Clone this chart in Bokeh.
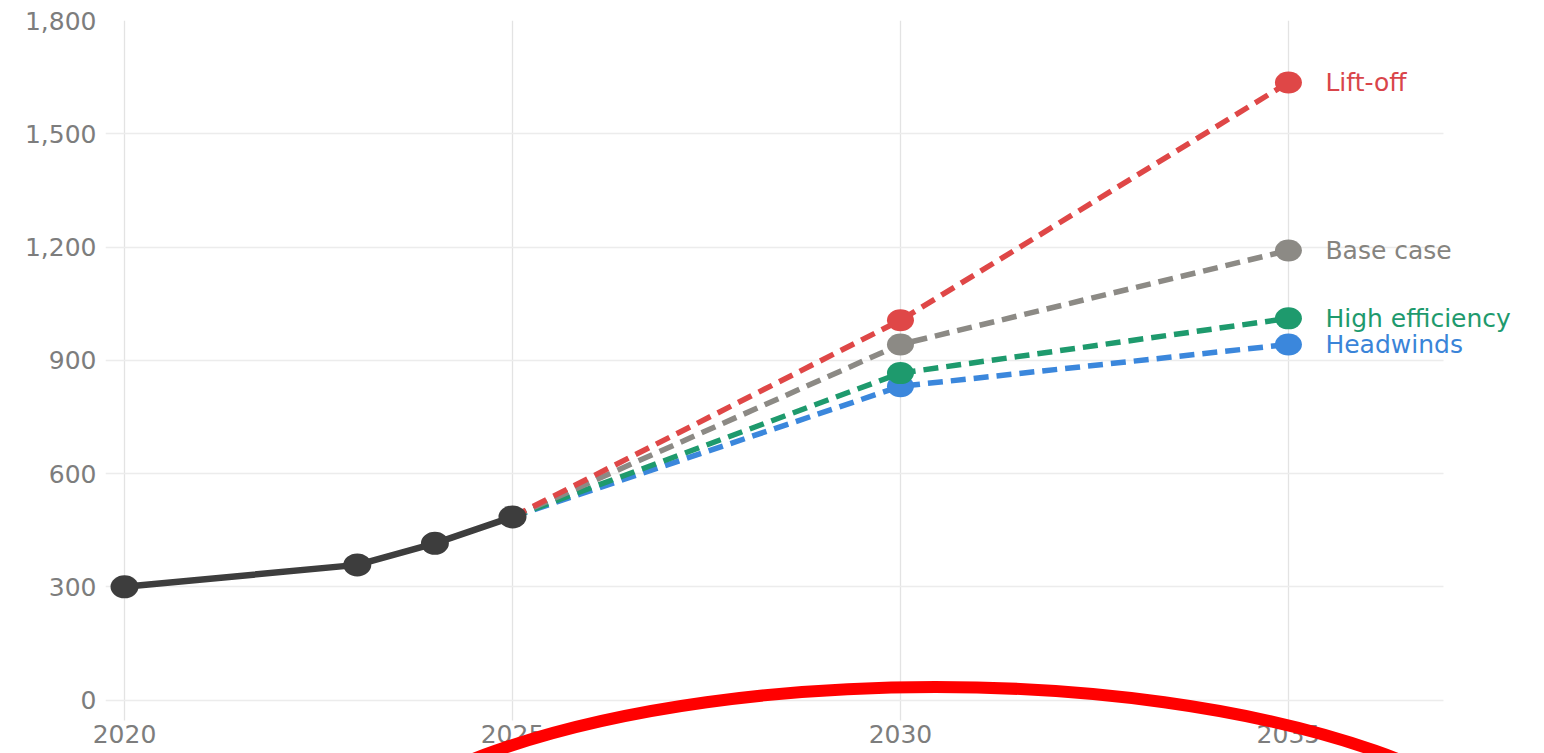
from bokeh.plotting import figure
from bokeh.models import (Range1d, FixedTicker, NumeralTickFormatter, ColumnDataSource)
from bokeh.core.properties import value
from bokeh.embed import file_html
from bokeh.resources import INLINE

# ---- data ----
hist_years = [2020, 2023, 2024, 2025]
hist_values = [300, 358, 415, 485]

proj_years = [2025, 2030, 2035]
scenario_names = ["Headwinds", "High efficiency", "Base case", "Lift-off"]
headwinds = [485, 831, 942]
high_efficiency = [485, 866, 1011]
base_case = [485, 942, 1191]
lift_off = [485, 1006, 1636]
scenario_values = [headwinds, high_efficiency, base_case, lift_off]
scenario_colors = ["#3b87dc", "#1e9a6d", "#8c8a85", "#df4747"]

x_ticks = [2020, 2025, 2030, 2035]
y_ticks = [0, 300, 600, 900, 1200, 1500, 1800]

# ---- style / layout constants ----
FONT = "DejaVu Sans"
X_START, X_END, X_GRID_END = 2019.755, 2038.30, 2037.0
Y_START, Y_END, Y_GRID_START = -128.4, 1800, -53

p = figure(width=1544, height=753,
           x_range=Range1d(X_START, X_END), y_range=Range1d(Y_START, Y_END),
           output_backend="svg", toolbar_location=None,
           min_border_left=105, min_border_right=0, min_border_top=20, min_border_bottom=5)
p.outline_line_color = None
p.background_fill_color = "white"

# axes
p.xaxis.ticker = FixedTicker(ticks=x_ticks)
p.yaxis.ticker = FixedTicker(ticks=y_ticks)
p.yaxis.formatter = NumeralTickFormatter(format="0,0")
for ax in (p.xaxis, p.yaxis):
    ax.axis_line_color = None
    ax.major_tick_line_color = None
    ax.minor_tick_line_color = None
    ax.major_tick_out = 0
    ax.major_tick_in = 0
    ax.minor_tick_out = 0
    ax.major_label_text_font = FONT
    ax.major_label_text_color = "#7d7d7d"
    ax.major_label_text_font_size = "25px"
p.xaxis.major_label_standoff = -24
p.yaxis.major_label_standoff = 9

p.xgrid.ticker = FixedTicker(ticks=x_ticks)
p.ygrid.ticker = FixedTicker(ticks=y_ticks)
p.xgrid.grid_line_color = "#e3e3e3"
p.ygrid.grid_line_color = "#ececec"
p.xgrid.grid_line_width = 1.3
p.ygrid.grid_line_width = 1.3
p.xgrid.cross_bounds = (Y_GRID_START, Y_END)
p.ygrid.cross_bounds = (X_START, X_GRID_END)

# scenario lines
for vals, col in zip(scenario_values, scenario_colors):
    p.line(proj_years, vals, line_color=col, line_width=5.5, line_dash="15 8")
    p.ellipse(x=proj_years[1:], y=vals[1:], width=27, height=22,
              width_units="screen", height_units="screen",
              fill_color=col, line_color=None)

# historical
p.line(hist_years, hist_values, line_color="#3d3d3d", line_width=6.5)
p.ellipse(x=hist_years, y=hist_values, width=28, height=23,
          width_units="screen", height_units="screen",
          fill_color="#3d3d3d", line_color=None)

# end labels
lab_src = ColumnDataSource(dict(
    x=[proj_years[-1]] * len(scenario_names),
    y=[v[-1] for v in scenario_values],
    text=scenario_names,
    color=["#3a84d8", "#1e9a6d", "#86847f", "#d9454a"],
))
p.text(x="x", y="y", text="text", source=lab_src, text_color="color",
       x_offset=37, text_baseline="middle", text_align="left",
       text_font=value(FONT), text_font_size="25px")

# red hand-drawn ellipse mark-up drawn over everything
ring_center_x, ring_center_y = 2030.45, -542.6
p.ellipse(x=[ring_center_x], y=[ring_center_y], width=1244, height=436,
          width_units="screen", height_units="screen",
          fill_alpha=0, line_color="#ff0000", line_width=12, level="overlay")

open("out.html", "w").write(file_html(p, INLINE))
